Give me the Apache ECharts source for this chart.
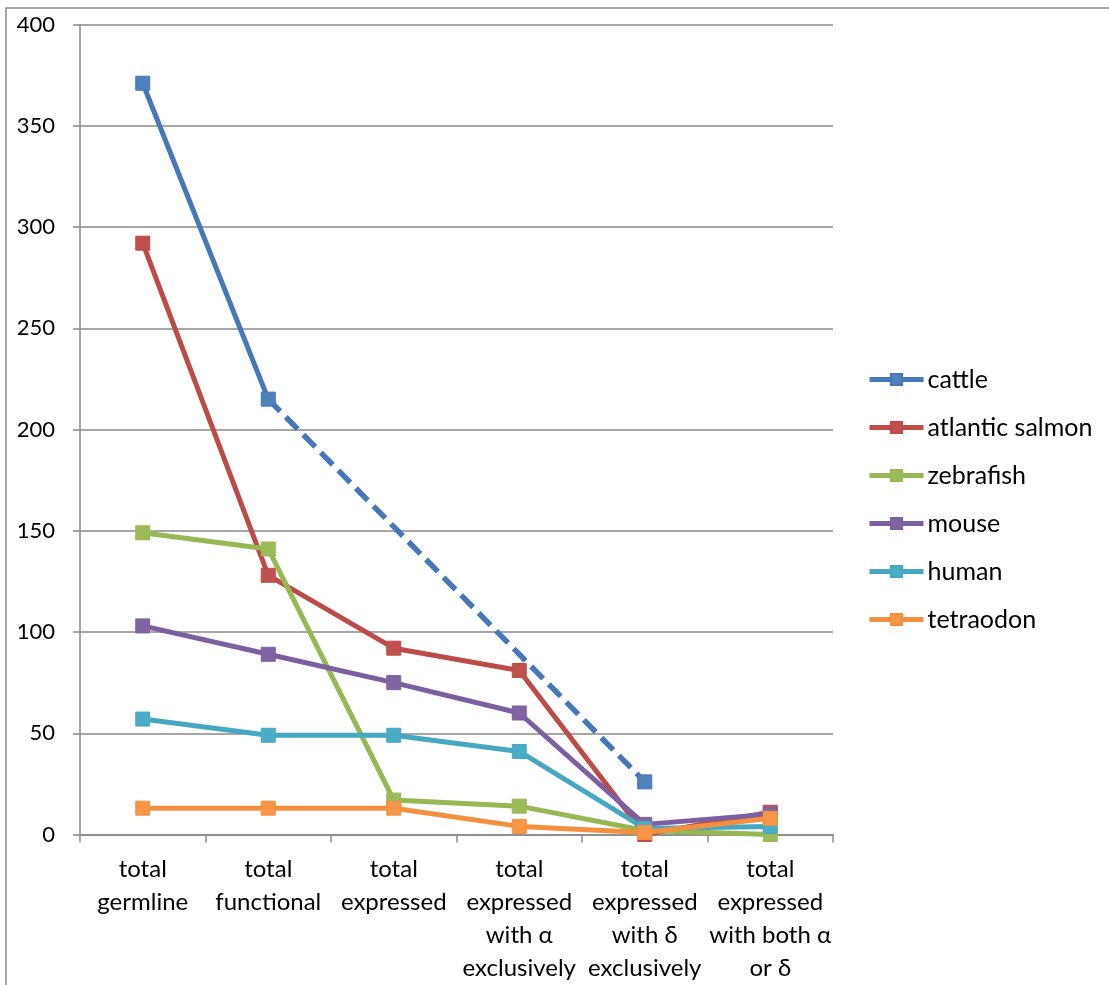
<!DOCTYPE html>
<html>
<head>
<meta charset="utf-8">
<script src="https://cdn.jsdelivr.net/npm/echarts@6/dist/echarts.min.js"></script>
<style>
html,body{margin:0;padding:0;background:#fff;}
#c{width:1109px;height:985px;}
</style>
</head>
<body>
<div id="c"></div>
<script>
const categories = [
  "total\ngermline",
  "total\nfunctional",
  "total\nexpressed",
  "total\nexpressed\nwith α\nexclusively",
  "total\nexpressed\nwith δ\nexclusively",
  "total\nexpressed\nwith both α\nor δ"
];
const seriesNames = ["cattle", "atlantic salmon", "zebrafish", "mouse", "human", "tetraodon"];
const cattle = [371, 215, null, null, 26, null];
const cattleDashed = [null, 215, null, null, 26, null];
const salmon = [292, 128, 92, 81, 0, 11];
const zebrafish = [149, 141, 17, 14, 2, 0];
const mouse = [103, 89, 75, 60, 5, 10];
const human = [57, 49, 49, 41, 3, 4];
const tetraodon = [13, 13, 13, 4, 1, 8];
const yTicks = { min: 0, max: 400, interval: 50 };

const lineCols = ["#4677B8", "#BD4B48", "#96B853", "#7C5FA0", "#45A8C3", "#F48F3E"];
const markCols = ["#4F81BD", "#C0504D", "#9BBB59", "#8064A2", "#4BACC6", "#F79646"];
const values = [cattle, salmon, zebrafish, mouse, human, tetraodon];

const FONT = "Lato";
const series = [{
  name: "cattle-est",
  type: "line",
  data: cattleDashed,
  connectNulls: true,
  symbol: "none",
  lineStyle: { color: lineCols[0], width: 5.5, type: [17, 8] },
  z: 1,
  silent: true
}];
values.forEach((d, i) => {
  series.push({
    name: seriesNames[i],
    type: "line",
    data: d,
    connectNulls: false,
    symbol: "rect",
    symbolSize: 14,
    lineStyle: { color: lineCols[i], width: 5 },
    itemStyle: { color: markCols[i], borderColor: lineCols[i], borderWidth: 1 },
    z: 2 + i
  });
});

const chart = echarts.init(document.getElementById("c"), null, { renderer: "canvas" });
chart.setOption({
  animation: false,
  backgroundColor: "#fff",
  graphic: [{
    type: "rect",
    shape: { x: 6, y: 8, width: 1120, height: 1000 },
    style: { fill: "none", stroke: "#8a8a8a", lineWidth: 1.5 },
    z: 0
  }],
  grid: { left: 80, right: 276, top: 24.5, bottom: 150.5, containLabel: false },
  legend: {
    data: seriesNames,
    orient: "vertical",
    left: 862,
    top: 362,
    itemWidth: 54,
    itemHeight: 14,
    itemGap: 23,
    lineStyle: { width: 5 },
    textStyle: { fontFamily: FONT, fontSize: 25, color: "#000", padding: [0, 0, 0, -1] }
  },
  xAxis: {
    type: "category",
    data: categories,
    boundaryGap: true,
    axisLine: { lineStyle: { color: "#8a8a8a", width: 1.5 } },
    axisTick: { show: true, length: 8, alignWithLabel: false, lineStyle: { color: "#8a8a8a", width: 1.5 } },
    axisLabel: { interval: 0, margin: 18, fontFamily: FONT, fontSize: 24, color: "#000", lineHeight: 33, align: "center" },
    splitLine: { show: false }
  },
  yAxis: {
    type: "value",
    min: yTicks.min,
    max: yTicks.max,
    interval: yTicks.interval,
    axisLine: { show: true, lineStyle: { color: "#8a8a8a", width: 1.5 } },
    axisTick: { show: true, length: 7, lineStyle: { color: "#8a8a8a", width: 1.5 } },
    axisLabel: { margin: 25, fontFamily: FONT, fontSize: 22, color: "#000" },
    splitLine: { show: true, lineStyle: { color: "#8a8a8a", width: 1.5 } }
  },
  series: series
});
</script>
</body>
</html>
